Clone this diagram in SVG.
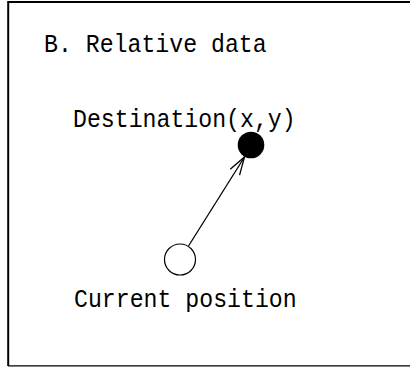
<svg xmlns="http://www.w3.org/2000/svg" width="410" height="367" viewBox="0 0 410 367">
  <style>
    .t { font-family: "Liberation Mono", "DejaVu Sans Mono", monospace; font-size: 23.2px; fill: #000; }
    .frame { fill: none; stroke: #000; }
  </style>
  <defs>
    <marker id="arr" markerUnits="userSpaceOnUse" markerWidth="24" markerHeight="16" refX="20" refY="8" orient="auto">
      <path d="M2,2.5 L20,8 L2,13.5" fill="none" stroke="#000" stroke-width="1.3"/>
    </marker>
  </defs>
  <rect width="410" height="367" fill="#fff"/>
  <g id="frame">
    <line class="frame" x1="8" y1="2" x2="410" y2="2" stroke-width="2"/>
    <line class="frame" x1="8.2" y1="1" x2="8.2" y2="366" stroke-width="2"/>
    <line class="frame" x1="8" y1="365.8" x2="410" y2="365.8" stroke-width="1.2"/>
  </g>
  <g id="title">
    <text class="t" transform="translate(44,52) scale(1,1.12)">B. Relative data</text>
  </g>
  <g id="destination">
    <circle cx="251" cy="145" r="13.3" fill="#000"/>
    <text class="t" transform="translate(73,127) scale(1,1.12)">Destination(x,y)</text>
  </g>
  <g id="current">
    <circle cx="180" cy="259.5" r="15.5" fill="#fff" stroke="#000" stroke-width="1.2"/>
    <text class="t" transform="translate(74,307) scale(1,1.12)">Current position</text>
  </g>
  <g id="connectors">
    <line x1="188.5" y1="246" x2="244.5" y2="157" stroke="#000" stroke-width="1.3" marker-end="url(#arr)"/>
  </g>
</svg>
